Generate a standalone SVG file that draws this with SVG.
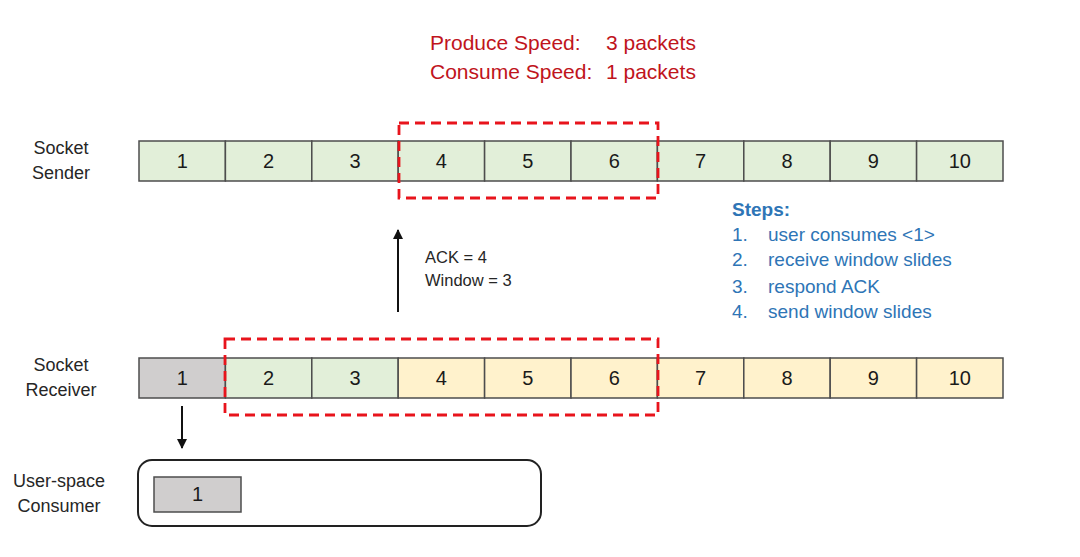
<svg xmlns="http://www.w3.org/2000/svg" width="1080" height="557" viewBox="0 0 1080 557">
<style>
.lbl{font-family:"Liberation Sans",Arial,sans-serif;font-size:18px;fill:#262626;text-anchor:middle}
.num{font-family:"Liberation Sans",Arial,sans-serif;font-size:20px;fill:#1a1a1a;text-anchor:middle}
.title{font-family:"Liberation Sans",Arial,sans-serif;font-size:21px;fill:#c0141c}
.step{font-family:"Liberation Sans",Arial,sans-serif;font-size:19px;fill:#2e75b6}
.ack{font-family:"Liberation Sans",Arial,sans-serif;font-size:16.5px;fill:#262626}
.cell{stroke:#4d4d4d;stroke-width:1.5}
.g{fill:#e2efd9}
.y{fill:#fff2cc}
.gr{fill:#d0cece}
.win{fill:none;stroke:#e8141c;stroke-width:2.8;stroke-dasharray:10 6}
.arrow{stroke:#111;stroke-width:2;fill:none}
</style>
<defs>
<marker id="ah" viewBox="0 0 10 10" refX="9" refY="5" markerWidth="5" markerHeight="5" orient="auto" markerUnits="strokeWidth">
<path d="M0,0 L10,5 L0,10 z" fill="#111"/>
</marker>
</defs>
<rect width="1080" height="557" fill="#ffffff"/>

<g id="title">
<text class="title" x="430" y="50">Produce Speed:</text>
<text class="title" x="606" y="50">3 packets</text>
<text class="title" x="430" y="79">Consume Speed:</text>
<text class="title" x="606" y="79">1 packets</text>
</g>

<g id="sender-label">
<text class="lbl" x="61" y="154">Socket</text>
<text class="lbl" x="61" y="179">Sender</text>
</g>

<g id="sender">
<rect class="cell g" x="139" y="141" width="86.4" height="40"/>
<rect class="cell g" x="225.4" y="141" width="86.4" height="40"/>
<rect class="cell g" x="311.8" y="141" width="86.4" height="40"/>
<rect class="cell g" x="398.2" y="141" width="86.4" height="40"/>
<rect class="cell g" x="484.6" y="141" width="86.4" height="40"/>
<rect class="cell g" x="571" y="141" width="86.4" height="40"/>
<rect class="cell g" x="657.4" y="141" width="86.4" height="40"/>
<rect class="cell g" x="743.8" y="141" width="86.4" height="40"/>
<rect class="cell g" x="830.2" y="141" width="86.4" height="40"/>
<rect class="cell g" x="916.6" y="141" width="86.4" height="40"/>
<text class="num" x="182.2" y="168">1</text>
<text class="num" x="268.6" y="168">2</text>
<text class="num" x="355" y="168">3</text>
<text class="num" x="441.4" y="168">4</text>
<text class="num" x="527.8" y="168">5</text>
<text class="num" x="614.2" y="168">6</text>
<text class="num" x="700.6" y="168">7</text>
<text class="num" x="787" y="168">8</text>
<text class="num" x="873.4" y="168">9</text>
<text class="num" x="959.8" y="168">10</text>
</g>

<g id="send-window">
<rect class="win" x="399" y="123" width="259" height="75"/>
</g>

<g id="steps">
<text class="step" x="732" y="216" font-weight="bold">Steps:</text>
<text class="step" x="732" y="241">1.</text><text class="step" x="768" y="241">user consumes &lt;1&gt;</text>
<text class="step" x="732" y="266">2.</text><text class="step" x="768" y="266">receive window slides</text>
<text class="step" x="732" y="293">3.</text><text class="step" x="768" y="293">respond ACK</text>
<text class="step" x="732" y="318">4.</text><text class="step" x="768" y="318">send window slides</text>
</g>

<g id="ack-label">
<text class="ack" x="425" y="263">ACK = 4</text>
<text class="ack" x="425" y="286">Window = 3</text>
</g>

<g id="receiver-label">
<text class="lbl" x="61" y="371">Socket</text>
<text class="lbl" x="61" y="396">Receiver</text>
</g>

<g id="receiver">
<rect class="cell gr" x="139" y="358" width="86.4" height="40"/>
<rect class="cell g" x="225.4" y="358" width="86.4" height="40"/>
<rect class="cell g" x="311.8" y="358" width="86.4" height="40"/>
<rect class="cell y" x="398.2" y="358" width="86.4" height="40"/>
<rect class="cell y" x="484.6" y="358" width="86.4" height="40"/>
<rect class="cell y" x="571" y="358" width="86.4" height="40"/>
<rect class="cell y" x="657.4" y="358" width="86.4" height="40"/>
<rect class="cell y" x="743.8" y="358" width="86.4" height="40"/>
<rect class="cell y" x="830.2" y="358" width="86.4" height="40"/>
<rect class="cell y" x="916.6" y="358" width="86.4" height="40"/>
<text class="num" x="182.2" y="385">1</text>
<text class="num" x="268.6" y="385">2</text>
<text class="num" x="355" y="385">3</text>
<text class="num" x="441.4" y="385">4</text>
<text class="num" x="527.8" y="385">5</text>
<text class="num" x="614.2" y="385">6</text>
<text class="num" x="700.6" y="385">7</text>
<text class="num" x="787" y="385">8</text>
<text class="num" x="873.4" y="385">9</text>
<text class="num" x="959.8" y="385">10</text>
</g>

<g id="recv-window">
<rect class="win" x="225" y="339" width="433" height="76"/>
</g>

<g id="consumer-label">
<text class="lbl" x="59" y="487">User-space</text>
<text class="lbl" x="59" y="512">Consumer</text>
</g>

<g id="consumer">
<rect x="138" y="460" width="403" height="66" rx="14" ry="14" fill="#ffffff" stroke="#222" stroke-width="2"/>
<rect class="cell gr" x="154" y="477" width="87" height="35"/>
<text class="num" x="197.5" y="501">1</text>
</g>

<g id="connectors">
<line class="arrow" x1="398" y1="312" x2="398" y2="230" marker-end="url(#ah)"/>
<line class="arrow" x1="182" y1="406" x2="182" y2="448" marker-end="url(#ah)"/>
</g>
</svg>
